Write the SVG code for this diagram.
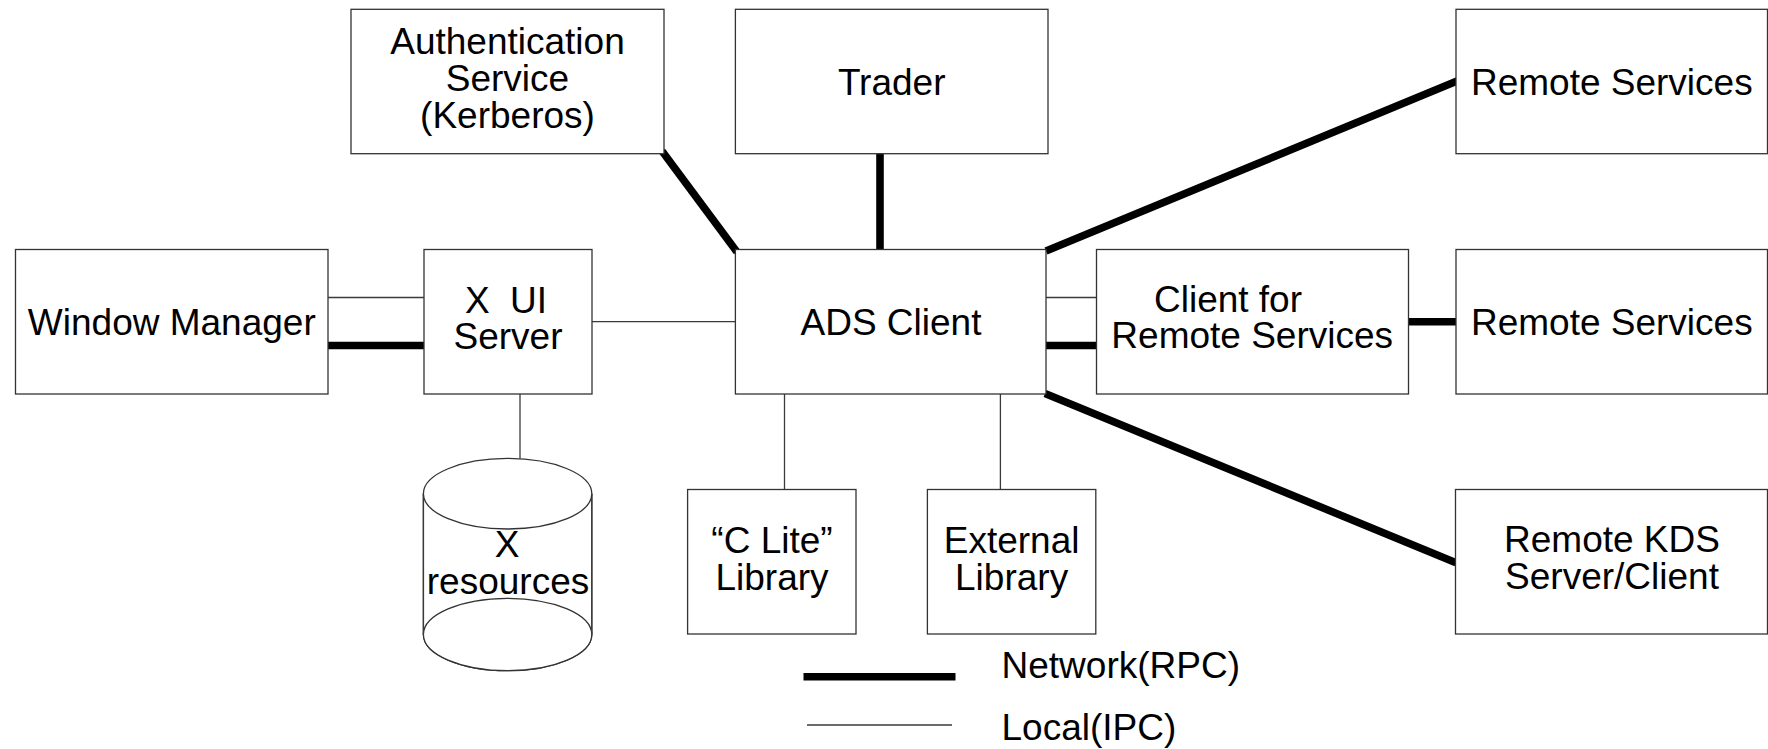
<svg xmlns="http://www.w3.org/2000/svg" width="1768" height="749" viewBox="0 0 1768 749">
  <style>
    .box { fill: #ffffff; stroke: #333333; stroke-width: 1.3; }
    .ipc { stroke: #3a3a3a; stroke-width: 1.3; fill: none; }
    .rpc { stroke: #000000; stroke-width: 7.6; fill: none; }
    .lbl { font-family: "Liberation Sans", Arial, Helvetica, sans-serif; font-size: 37px; fill: #000000; text-anchor: middle; }
    .leg { font-family: "Liberation Sans", Arial, Helvetica, sans-serif; font-size: 37px; fill: #000000; }
  </style>
  <rect width="1768" height="749" fill="#ffffff"/>

  <!-- connectors: thin = local IPC, thick = network RPC -->
  <g id="connectors">
    <line class="ipc" x1="328" y1="297.5" x2="424" y2="297.5"/>
    <line class="rpc" x1="328" y1="345.5" x2="424" y2="345.5"/>
    <line class="ipc" x1="592" y1="321.7" x2="736" y2="321.7"/>
    <line class="ipc" x1="520" y1="394" x2="520" y2="458.5"/>
    <line class="rpc" x1="662" y1="151" x2="737" y2="252"/>
    <line class="rpc" x1="880" y1="151" x2="880" y2="253"/>
    <line class="rpc" x1="1046" y1="251" x2="1459.5" y2="80"/>
    <line class="ipc" x1="1046" y1="297.5" x2="1096.5" y2="297.5"/>
    <line class="rpc" x1="1046" y1="345.5" x2="1096.5" y2="345.5"/>
    <line class="rpc" x1="1405" y1="321.7" x2="1459" y2="321.7"/>
    <line class="rpc" x1="1045" y1="393.5" x2="1456" y2="562.7"/>
    <line class="ipc" x1="784.5" y1="394" x2="784.5" y2="489.5"/>
    <line class="ipc" x1="1000.4" y1="394" x2="1000.4" y2="489.5"/>
  </g>

  <g id="auth">
    <rect class="box" x="351" y="9.3" width="313" height="144.4"/>
    <text class="lbl" x="507.5" y="54.3">Authentication</text>
    <text class="lbl" x="507.5" y="91">Service</text>
    <text class="lbl" x="507.5" y="128">(Kerberos)</text>
  </g>

  <g id="trader">
    <rect class="box" x="735.4" y="9.3" width="312.6" height="144.4"/>
    <text class="lbl" x="891.7" y="94.5">Trader</text>
  </g>

  <g id="remote-services-1">
    <rect class="box" x="1456" y="9.3" width="311.5" height="144.4"/>
    <text class="lbl" x="1611.8" y="95">Remote Services</text>
  </g>

  <g id="window-manager">
    <rect class="box" x="15.5" y="249.5" width="312.5" height="144.5"/>
    <text class="lbl" x="171.8" y="335">Window Manager</text>
  </g>

  <g id="x-ui-server">
    <rect class="box" x="424" y="249.5" width="168" height="144.5"/>
    <text class="lbl" x="506" y="312.7" xml:space="preserve">X  UI</text>
    <text class="lbl" x="508" y="349.3">Server</text>
  </g>

  <g id="ads-client">
    <rect class="box" x="735.4" y="249.5" width="310.6" height="144.5"/>
    <text class="lbl" x="891" y="334.5">ADS Client</text>
  </g>

  <g id="client-remote">
    <rect class="box" x="1096.5" y="249.5" width="312" height="144.5"/>
    <text class="lbl" x="1228" y="311.7">Client for</text>
    <text class="lbl" x="1252.2" y="348.3">Remote Services</text>
  </g>

  <g id="remote-services-2">
    <rect class="box" x="1456" y="249.5" width="311.5" height="144.5"/>
    <text class="lbl" x="1611.8" y="335">Remote Services</text>
  </g>

  <g id="x-resources">
    <path class="box" d="M423.4,493.7 L423.4,634.5 A84.2,36.2 0 0 0 591.8,634.5 L591.8,493.7"/>
    <ellipse class="box" cx="507.6" cy="634.5" rx="84.2" ry="36.2"/>
    <line class="ipc" x1="423.4" y1="493.7" x2="423.4" y2="634.5"/>
    <line class="ipc" x1="591.8" y1="493.7" x2="591.8" y2="634.5"/>
    <ellipse class="box" cx="507.6" cy="493.7" rx="84.2" ry="35.3"/>
    <text class="lbl" x="507" y="556.7">X</text>
    <text class="lbl" x="508" y="594.3">resources</text>
  </g>

  <g id="c-lite-library">
    <rect class="box" x="687.6" y="489.5" width="168.4" height="144.5"/>
    <text class="lbl" x="772" y="552.7">“C Lite”</text>
    <text class="lbl" x="772" y="590">Library</text>
  </g>

  <g id="external-library">
    <rect class="box" x="927.4" y="489.5" width="168.4" height="144.5"/>
    <text class="lbl" x="1011.6" y="552.7">External</text>
    <text class="lbl" x="1011.6" y="590">Library</text>
  </g>

  <g id="remote-kds">
    <rect class="box" x="1455.5" y="489.5" width="312" height="144.5"/>
    <text class="lbl" x="1612" y="552.3">Remote KDS</text>
    <text class="lbl" x="1612" y="589.3">Server/Client</text>
  </g>

  <g id="legend">
    <line class="rpc" x1="803.5" y1="676.7" x2="955.5" y2="676.7"/>
    <text class="leg" x="1001.5" y="678.3">Network(RPC)</text>
    <line class="ipc" x1="807" y1="725" x2="952" y2="725"/>
    <text class="leg" x="1001.5" y="740">Local(IPC)</text>
  </g>
</svg>
